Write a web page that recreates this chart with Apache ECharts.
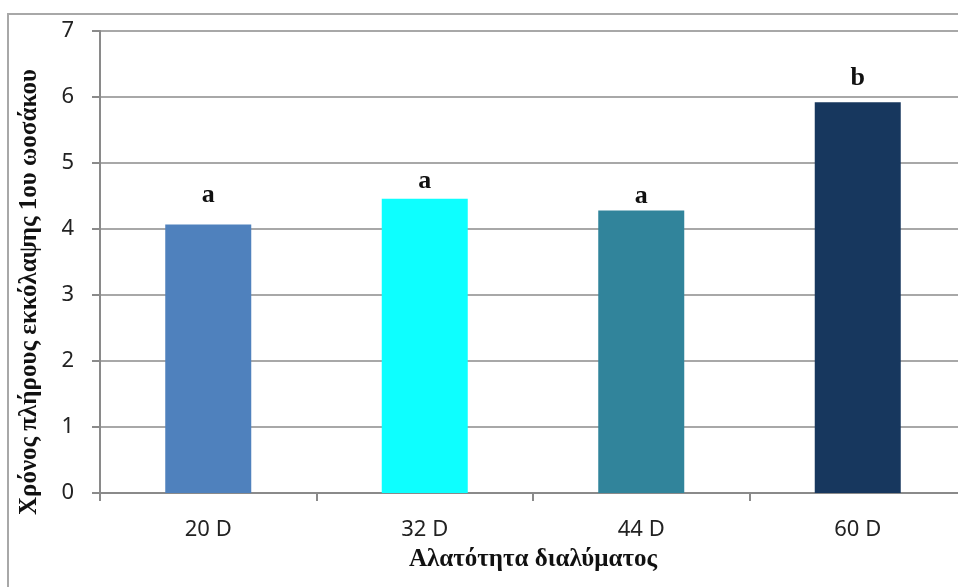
<!DOCTYPE html>
<html>
<head>
<meta charset="utf-8">
<script src="https://cdn.jsdelivr.net/npm/echarts@6/dist/echarts.min.js"></script>
<style>html,body{margin:0;padding:0;background:#fff;}#c{width:958px;height:587px;}</style>
</head>
<body>
<div id="c"></div>
<script>
const categories = ['20 D', '32 D', '44 D', '60 D'];
const values = [4.07, 4.46, 4.28, 5.92];
const letters = ['a', 'a', 'a', 'b'];
const yTicks = [0, 1, 2, 3, 4, 5, 6, 7];
const xTitle = 'Αλατότητα διαλύματος';
const yTitle = 'Χρόνος πλήρους εκκόλαψης 1ου ωοσάκου';

const barColors = ['#4F81BD', '#0DFFFF', '#31849B', '#17375E'];
const labelGaps = [16, 4, 1, 11];

const chart = echarts.init(document.getElementById('c'));
chart.setOption({
  animation: false,
  backgroundColor: '#fff',
  graphic: [{
    type: 'polyline',
    shape: { points: [[8, 600], [8, 14], [970, 14]] },
    style: { stroke: '#a8a8a8', lineWidth: 2, fill: null },
    silent: true
  }],
  grid: { left: 100, top: 31, bottom: 94, right: -8, outerBoundsMode: 'none', containLabel: false },
  xAxis: {
    type: 'category',
    data: categories,
    axisLine: { lineStyle: { color: '#8a8a8a', width: 2 } },
    axisTick: { show: true, length: 8, lineStyle: { color: '#8a8a8a', width: 2 } },
    axisLabel: { fontFamily: 'Noto Sans', fontSize: 22, color: '#222', margin: 26 },
    name: xTitle,
    nameLocation: 'middle',
    nameGap: 54,
    nameTextStyle: { fontFamily: 'Liberation Serif', fontWeight: 'bold', fontSize: 25, color: '#111', padding: [0, 0, 0, 0] }
  },
  yAxis: {
    type: 'value',
    min: yTicks[0],
    max: yTicks[yTicks.length - 1],
    interval: 1,
    axisLine: { show: true, lineStyle: { color: '#8a8a8a', width: 2 } },
    axisTick: { show: true, length: 8, lineStyle: { color: '#8a8a8a', width: 2 } },
    axisLabel: { fontFamily: 'Noto Sans', fontSize: 22, color: '#222', margin: 26 },
    splitLine: { show: true, lineStyle: { color: '#a8a8a8', width: 2 } },
    name: yTitle,
    nameLocation: 'middle',
    nameGap: 58,
    nameRotate: 90,
    nameTextStyle: { fontFamily: 'Liberation Serif', fontWeight: 'bold', fontSize: 25, color: '#111', padding: [0, 60, 0, 0] }
  },
  series: [{
    type: 'bar',
    barWidth: 86,
    data: values.map((v, i) => ({
      value: v,
      itemStyle: { color: barColors[i] },
      label: {
        show: true,
        position: 'top',
        distance: labelGaps[i],
        formatter: letters[i],
        fontFamily: 'Liberation Serif',
        fontWeight: 'bold',
        fontSize: 26,
        color: '#111'
      }
    }))
  }]
});
</script>
</body>
</html>
